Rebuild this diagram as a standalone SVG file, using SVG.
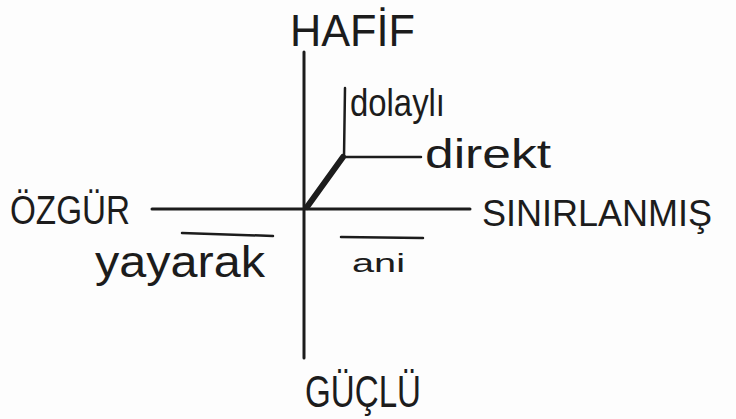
<svg xmlns="http://www.w3.org/2000/svg" width="736" height="419" viewBox="0 0 736 419">
<style>
.t{font-family:"Liberation Sans","DejaVu Sans",sans-serif;fill:#1c1c1c}
.ln{stroke:#1c1c1c;stroke-width:2.5;stroke-linecap:round;fill:none}
.ax{stroke-width:3}
.bold{stroke-width:6}
</style>
<rect width="736" height="419" fill="#fdfdfd"/>
<g id="connectors">
<line class="ln ax" x1="304" y1="52" x2="304" y2="358"/>
<line class="ln ax" x1="152" y1="209" x2="470" y2="209"/>
<line class="ln bold" x1="307" y1="207" x2="343" y2="157"/>
<line class="ln" x1="344" y1="157" x2="345" y2="88"/>
<line class="ln" x1="344" y1="157" x2="421" y2="157"/>
<line class="ln" x1="182" y1="233" x2="273" y2="236"/>
<line class="ln" x1="341" y1="237" x2="423" y2="238"/>
</g>
<g id="hafif"><text class="t" x="290" y="46" font-size="44" textLength="125" lengthAdjust="spacingAndGlyphs">HAFİF</text></g>
<g id="dolayli"><text class="t" x="350" y="116" font-size="38" textLength="95" lengthAdjust="spacingAndGlyphs">dolaylı</text></g>
<g id="direkt"><text class="t" x="425" y="168" font-size="40" textLength="126" lengthAdjust="spacingAndGlyphs">direkt</text></g>
<g id="ozgur"><text class="t" x="10" y="224" font-size="40" textLength="120" lengthAdjust="spacingAndGlyphs">ÖZGÜR</text></g>
<g id="sinirlanmis"><text class="t" x="482" y="226" font-size="36">SINIRLANMIŞ</text></g>
<g id="yayarak"><text class="t" x="95" y="277" font-size="44" textLength="170" lengthAdjust="spacingAndGlyphs">yayarak</text></g>
<g id="ani"><text class="t" x="352" y="272" font-size="26" textLength="53" lengthAdjust="spacingAndGlyphs">ani</text></g>
<g id="guclu"><text class="t" x="305" y="407" font-size="44" textLength="116" lengthAdjust="spacingAndGlyphs">GÜÇLÜ</text></g>
</svg>
